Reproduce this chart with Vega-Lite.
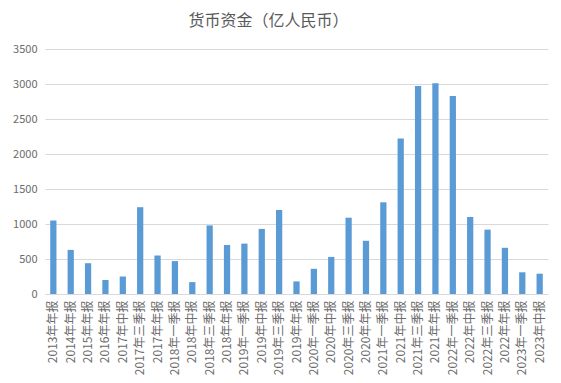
{
  "$schema": "https://vega.github.io/schema/vega-lite/v6.json",
  "width": 503,
  "height": 245,
  "autosize": {"type": "none"},
  "padding": {"left": 45, "top": 49, "right": 13, "bottom": 89},
  "background": "white",
  "config": {
    "font": "Noto Sans CJK SC",
    "view": {"stroke": null}
  },
  "title": {
    "text": "货币资金（亿人民币）",
    "fontSize": 16,
    "fontWeight": "normal",
    "color": "#595959",
    "font": "Noto Sans CJK SC",
    "anchor": "middle",
    "offset": 14,
    "dx": -28
  },
  "data": {
    "values": [
      {"period": "2013年年报", "value": 1050},
      {"period": "2014年年报", "value": 630},
      {"period": "2015年年报", "value": 440},
      {"period": "2016年年报", "value": 200},
      {"period": "2017年中报", "value": 250},
      {"period": "2017年三季报", "value": 1240},
      {"period": "2017年年报", "value": 550},
      {"period": "2018年一季报", "value": 470},
      {"period": "2018年中报", "value": 170},
      {"period": "2018年三季报", "value": 980},
      {"period": "2018年年报", "value": 700},
      {"period": "2019年一季报", "value": 720},
      {"period": "2019年中报", "value": 930},
      {"period": "2019年三季报", "value": 1200},
      {"period": "2019年年报", "value": 180},
      {"period": "2020年一季报", "value": 360},
      {"period": "2020年中报", "value": 530},
      {"period": "2020年三季报", "value": 1090},
      {"period": "2020年年报", "value": 760},
      {"period": "2021年一季报", "value": 1310},
      {"period": "2021年中报", "value": 2220},
      {"period": "2021年三季报", "value": 2970},
      {"period": "2021年年报", "value": 3010},
      {"period": "2022年一季报", "value": 2830},
      {"period": "2022年中报", "value": 1100},
      {"period": "2022年三季报", "value": 920},
      {"period": "2022年年报", "value": 660},
      {"period": "2023年一季报", "value": 310},
      {"period": "2023年中报", "value": 290}
    ]
  },
  "mark": {"type": "bar", "color": "#5B9BD5"},
  "encoding": {
    "x": {
      "field": "period",
      "type": "nominal",
      "sort": null,
      "scale": {"paddingInner": 0.64, "paddingOuter": 0.3},
      "axis": {
        "title": null,
        "labelAngle": -90,
        "labelFontSize": 12,
        "labelColor": "#6b6b6b",
        "ticks": false,
        "domainColor": "#D9D9D9",
        "labelPadding": 6
      }
    },
    "y": {
      "field": "value",
      "type": "quantitative",
      "scale": {"domain": [0, 3500]},
      "axis": {
        "title": null,
        "format": "d",
        "values": [0, 500, 1000, 1500, 2000, 2500, 3000, 3500],
        "labelFontSize": 11,
        "labelColor": "#6b6b6b",
        "ticks": false,
        "domain": false,
        "gridColor": "#D9D9D9",
        "labelPadding": 8
      }
    }
  }
}
